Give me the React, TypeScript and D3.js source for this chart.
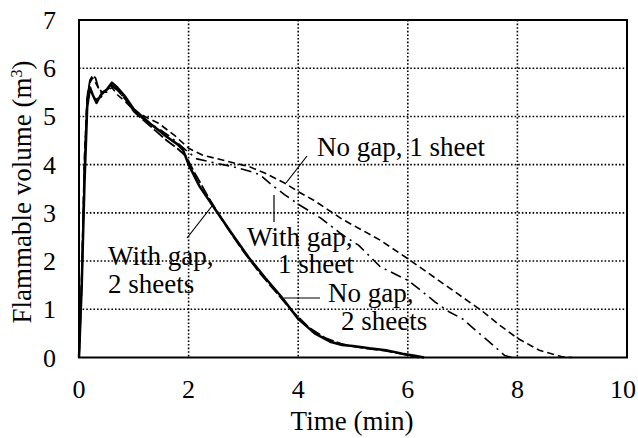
import React from "react";
import * as d3 from "d3";

// Time (min) and flammable volume (m³) for each configuration
const tNoGap2 = [0, 0.05, 0.1, 0.15, 0.2, 0.25, 0.32, 0.4, 0.5, 0.6, 0.7, 0.85, 1.0, 1.15, 1.3, 1.45, 1.6, 1.8, 1.9, 2.0, 2.2, 2.5, 2.8, 3.1, 3.4, 3.7, 4.0, 4.3, 4.6, 4.8, 5.0, 5.3, 5.6, 5.9, 6.1, 6.3];
const vNoGap2 = [0, 1.5, 3.6, 5.2, 5.6, 5.45, 5.28, 5.45, 5.55, 5.7, 5.6, 5.4, 5.15, 5.0, 4.85, 4.72, 4.58, 4.42, 4.3, 4.0, 3.55, 3.05, 2.55, 2.07, 1.65, 1.25, 0.8, 0.5, 0.32, 0.26, 0.24, 0.19, 0.15, 0.08, 0.04, 0];

const tGap2 = [0, 0.05, 0.1, 0.15, 0.2, 0.25, 0.3, 0.35, 0.42, 0.5, 0.6, 0.7, 0.85, 1.0, 1.2, 1.4, 1.6, 1.8, 1.95, 2.1, 2.4, 2.7, 3.0, 3.3, 3.6, 3.9, 4.2, 4.5, 4.8, 5.0, 5.3, 5.6, 5.9, 6.2];
const vGap2 = [0, 1.6, 4.0, 5.4, 5.75, 5.85, 5.8, 5.6, 5.5, 5.55, 5.62, 5.55, 5.35, 5.1, 4.9, 4.7, 4.5, 4.33, 4.18, 3.85, 3.25, 2.7, 2.2, 1.75, 1.35, 0.95, 0.62, 0.4, 0.28, 0.23, 0.18, 0.14, 0.07, 0];

const tNoGap1 = [0, 0.05, 0.1, 0.15, 0.2, 0.25, 0.3, 0.4, 0.5, 0.6, 0.7, 0.85, 1.0, 1.2, 1.45, 1.75, 2.0, 2.25, 2.6, 3.1, 3.4, 3.75, 4.0, 4.3, 4.8, 5.2, 5.5, 6.0, 6.5, 7.0, 7.35, 7.7, 8.0, 8.4, 8.8, 9.0];
const vNoGap1 = [0, 1.7, 4.2, 5.45, 5.7, 5.8, 5.7, 5.5, 5.5, 5.6, 5.45, 5.3, 5.13, 5.0, 4.86, 4.6, 4.34, 4.2, 4.1, 3.96, 3.82, 3.62, 3.44, 3.25, 2.87, 2.62, 2.43, 2.05, 1.65, 1.25, 0.97, 0.65, 0.4, 0.15, 0.02, 0];

const tGap1 = [0, 0.05, 0.1, 0.15, 0.2, 0.3, 0.4, 0.5, 0.6, 0.7, 0.85, 1.0, 1.2, 1.45, 1.7, 1.95, 2.15, 2.5, 2.8, 3.1, 3.3, 3.55, 3.75, 4.0, 4.4, 4.8, 5.1, 5.5, 6.0, 6.25, 6.5, 6.75, 7.0, 7.25, 7.46, 7.77, 7.9];
const vGap1 = [0, 1.4, 3.9, 5.25, 5.55, 5.35, 5.4, 5.55, 5.65, 5.55, 5.35, 5.1, 4.92, 4.75, 4.55, 4.3, 4.12, 4.03, 3.96, 3.87, 3.79, 3.55, 3.38, 3.18, 2.9, 2.55, 2.33, 1.88, 1.6, 1.38, 1.15, 0.95, 0.8, 0.55, 0.35, 0.04, 0];

const xTicks = [0, 2, 4, 6, 8, 10];
const yTicks = [0, 1, 2, 3, 4, 5, 6, 7];

const W = 638;
const H = 438;
const left = 79;
const right = 627;
const top = 20;
const bottom = 357.5;
const FONT =
  "'Liberation Serif', Tinos, 'Times New Roman', Times, 'Nimbus Roman', 'Noto Serif', 'DejaVu Serif', serif";
const txt: React.CSSProperties = { fontFamily: FONT, fontSize: 27 };
const tick: React.CSSProperties = { fontFamily: FONT, fontSize: 26 };

const x = d3.scaleLinear().domain([0, 10]).range([left, right]);
const y = d3.scaleLinear().domain([0, 7]).range([bottom, top]);

const zip = (t: number[], v: number[]) => t.map((ti, i) => [ti, v[i]] as [number, number]);

const line = d3
  .line<[number, number]>()
  .x((d) => x(d[0]))
  .y((d) => y(d[1]));

const series = [
  { data: zip(tNoGap1, vNoGap1), width: 1.6, dash: "7,4" },
  { data: zip(tGap1, vGap1), width: 1.6, dash: "11,5,2,5" },
  { data: zip(tGap2, vGap2), width: 1.8, dash: "12,3" },
  { data: zip(tNoGap2, vNoGap2), width: 2.5, dash: "none" },
];

export default function App() {
  return (
    <svg
      width={W}
      height={H}
      style={{ position: "absolute", left: 0, top: 0, background: "#fff" }}
    >
      {/* Dotted grid */}
      {xTicks.slice(1, -1).map((t) => (
        <line key={"gx" + t} x1={x(t)} x2={x(t)} y1={top} y2={bottom} stroke="#000" strokeWidth={1.6} strokeDasharray="1.6,2" />
      ))}
      {yTicks.slice(1, -1).map((t) => (
        <line key={"gy" + t} x1={left} x2={right} y1={y(t)} y2={y(t)} stroke="#000" strokeWidth={1.6} strokeDasharray="1.6,2" />
      ))}

      {/* Curves */}
      {series.map((s, i) => (
        <path
          key={i}
          d={line(s.data) || ""}
          fill="none"
          stroke="#000"
          strokeWidth={s.width}
          strokeDasharray={s.dash}
          strokeLinejoin="round"
        />
      ))}

      {/* Plot frame */}
      <rect x={left} y={top} width={right - left} height={bottom - top} fill="none" stroke="#000" strokeWidth={2} />

      {/* Tick labels; the last one is kept inside the page edge */}
      {xTicks.map((t, i) => {
        const last = i === xTicks.length - 1;
        return (
          <text
            key={"tx" + t}
            x={last ? W - 2 : x(t)}
            y={398}
            style={tick}
            textAnchor={last ? "end" : "middle"}
          >
            {t}
          </text>
        );
      })}
      {yTicks.map((t) => (
        <text key={"ty" + t} x={56} y={y(t) + 9} style={tick} textAnchor="end">
          {t}
        </text>
      ))}

      {/* Axis titles */}
      <text x={352} y={430} style={txt} textAnchor="middle">
        Time (min)
      </text>
      <text transform="translate(31,192) rotate(-90)" style={txt} textAnchor="middle">
        Flammable volume (m<tspan dy={-9} style={{ fontSize: 16 }}>3</tspan>
        <tspan dy={9}>)</tspan>
      </text>

      {/* Curve annotations */}
      <line x1={307} y1={156} x2={286} y2={183} stroke="#000" strokeWidth={1.2} />
      <text x={317} y={156} style={txt}>No gap, 1 sheet</text>

      <line x1={274} y1={195} x2={274} y2={222} stroke="#000" strokeWidth={1.2} />
      <text x={247} y={246} style={txt}>With gap,</text>
      <text x={278} y={273} style={txt}>1 sheet</text>

      <line x1={284} y1={298} x2={320} y2={298} stroke="#000" strokeWidth={1.2} />
      <text x={328} y={302} style={txt}>No gap,</text>
      <text x={341} y={330} style={txt}>2 sheets</text>

      <line x1={187} y1={238} x2={212} y2={206} stroke="#000" strokeWidth={1.2} />
      <text x={108} y={265} style={txt}>With gap,</text>
      <text x={108} y={293} style={txt}>2 sheets</text>
    </svg>
  );
}
